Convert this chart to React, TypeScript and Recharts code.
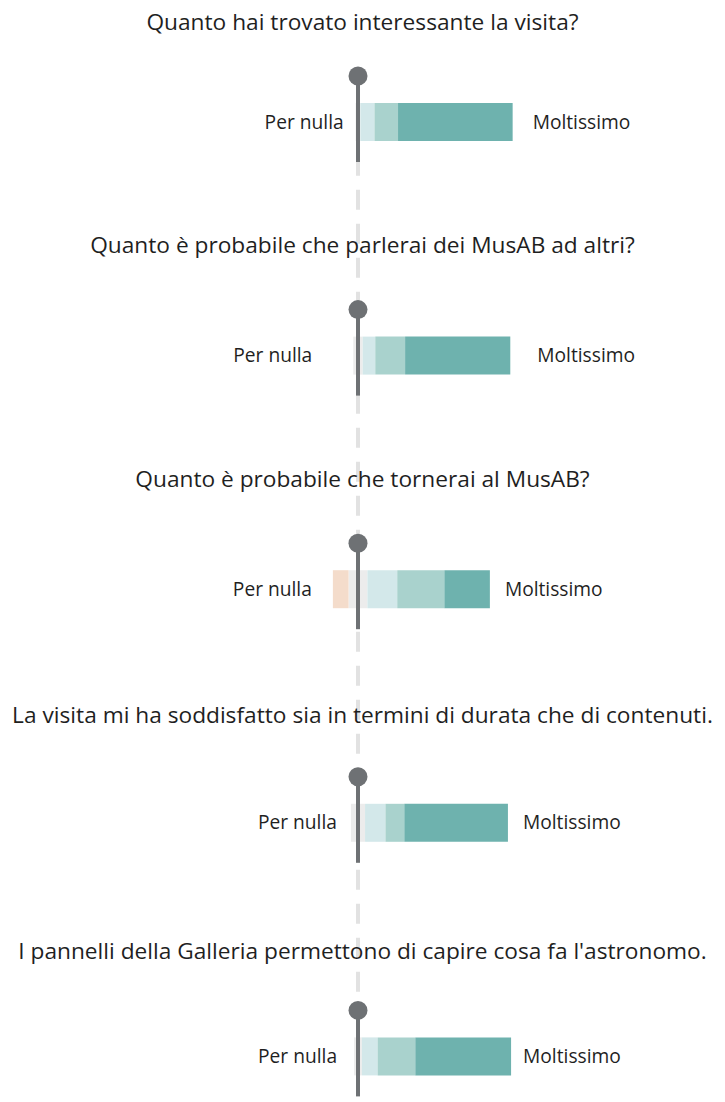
import React from 'react';
import { BarChart, Bar, XAxis, YAxis, ReferenceLine, LabelList } from 'recharts';

const domande = [
  'Quanto hai trovato interessante la visita?',
  'Quanto è probabile che parlerai dei MusAB ad altri?',
  'Quanto è probabile che tornerai al MusAB?',
  'La visita mi ha soddisfatto sia in termini di durata che di contenuti.',
  "I pannelli della Galleria permettono di capire cosa fa l'astronomo.",
];

// percentuali di risposta per domanda
const poco = [0, 0, 10, 0, 0];
const neutro = [3, 6, 12, 9, 5];
const abbastanza = [9, 8, 19, 13, 10];
const molto = [15, 19, 30, 12, 24];
const moltissimo = [73, 67, 29, 66, 61];

const etichettaMin = 'Per nulla';
const etichettaMax = 'Moltissimo';

// piccoli aggiustamenti di impaginazione per riga
const titoloDy = [-92, -103, -102, -100, -97];
const gapSx = [12, 41, 21, 14, 17];
const gapDx = [20, 27, 15, 15, 12];

const W = 725;
const FONT = "'Open Sans', sans-serif";
const TEXT = '#1f1f1f';
const PIN = '#6e7174';

const data = domande.map((d, i) => ({
  domanda: d,
  neutroSx: -neutro[i] / 2,
  poco: -poco[i],
  neutroDx: neutro[i] / 2,
  abbastanza: abbastanza[i],
  molto: molto[i],
  moltissimo: moltissimo[i],
}));

const box = (props: any) => {
  const vb = props.viewBox ?? props;
  const x = Number(vb.x);
  const w = Number(vb.width);
  const y = Number(vb.y);
  const h = Number(vb.height);
  return { left: Math.min(x, x + w), right: Math.max(x, x + w), x, w, cy: y + h / 2 };
};

const PinTitolo = (props: any) => {
  const { x, cy } = box(props);
  const i = props.index as number;
  return (
    <g>
      <text x={W / 2} y={cy + titoloDy[i]} textAnchor="middle" fontFamily={FONT} fontSize={22.7} fill={TEXT}>
        {domande[i]}
      </text>
      <line x1={x} x2={x} y1={cy - 46} y2={cy + 40} stroke={PIN} strokeWidth={4} />
      <circle cx={x} cy={cy - 46} r={9.5} fill={PIN} />
    </g>
  );
};

// etichetta sinistra: bordo del neutro, più l'eventuale segmento negativo
const LabelSx = (props: any) => {
  const i = props.index as number;
  const { left, w, cy } = box(props);
  const pxPerPunto = Math.abs(w) / (neutro[i] / 2);
  const bordo = left - poco[i] * pxPerPunto;
  return (
    <text x={bordo - gapSx[i]} y={cy + 6.5} textAnchor="end" fontFamily={FONT} fontSize={19.2} fill={TEXT}>
      {etichettaMin}
    </text>
  );
};

const LabelDx = (props: any) => {
  const i = props.index as number;
  const { right, cy } = box(props);
  return (
    <text x={right + gapDx[i]} y={cy + 6.5} textAnchor="start" fontFamily={FONT} fontSize={19.2} fill={TEXT}>
      {etichettaMax}
    </text>
  );
};

export default function App() {
  return (
    <div style={{ position: 'absolute', left: 0, top: 0, width: W, height: 1102, overflow: 'hidden', background: '#fff' }}>
      <BarChart
        width={W}
        height={1173}
        data={data}
        layout="vertical"
        stackOffset="sign"
        margin={{ top: 5, right: 210, bottom: 0, left: 201 }}
      >
        <XAxis type="number" hide domain={[-100, 100]} allowDataOverflow />
        <YAxis type="category" dataKey="domanda" hide />
        <ReferenceLine
          segment={[{ x: 0, y: domande[0] }, { x: 0, y: domande[domande.length - 1] }]}
          stroke="#e2e2e2"
          strokeWidth={4}
          strokeDasharray="20 14"
          zIndex={-10}
        />
        <Bar dataKey="neutroSx" stackId="a" fill="#ececec" barSize={38} isAnimationActive={false}>
          <LabelList content={LabelSx} />
        </Bar>
        <Bar dataKey="poco" stackId="a" fill="#f4dccb" barSize={38} isAnimationActive={false} />
        <Bar dataKey="neutroDx" stackId="a" fill="#ececec" barSize={38} isAnimationActive={false}>
          <LabelList content={PinTitolo} />
        </Bar>
        <Bar dataKey="abbastanza" stackId="a" fill="#d3e8ea" barSize={38} isAnimationActive={false} />
        <Bar dataKey="molto" stackId="a" fill="#a9d2cd" barSize={38} isAnimationActive={false} />
        <Bar dataKey="moltissimo" stackId="a" fill="#6eb2ae" barSize={38} isAnimationActive={false}>
          <LabelList content={LabelDx} />
        </Bar>
      </BarChart>
    </div>
  );
}
